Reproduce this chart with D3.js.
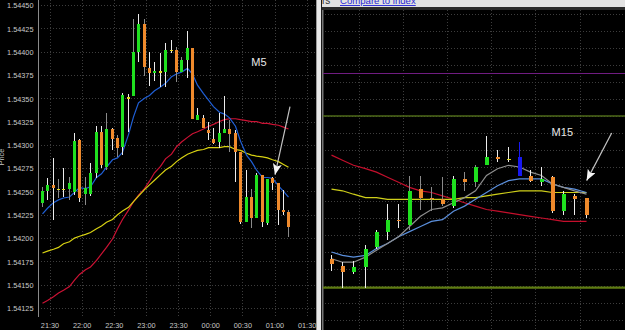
<!DOCTYPE html>
<meta charset="utf-8">
<style>
body { margin: 0; background: #000; }
svg { display: block; }
.tick-label { fill: #c8c8c8; font: 7.3px "Liberation Sans", Arial, sans-serif; }
.grid { stroke: #3d3d3d; stroke-width: 1px; stroke-dasharray: 1,2; shape-rendering: crispEdges; }
.ma { fill: none; stroke-width: 1.2px; }
.tf { fill: #e8e8e8; font: 11px "Liberation Sans", Arial, sans-serif; }
</style>
<body>
<script src="https://cdn.jsdelivr.net/npm/d3@7"></script>
<script>

// ---------- M5 panel data (left) ----------
var m5Start = "2013-01-01T21:20";
var m5Open = [1.54238,1.54250,1.54257,1.54253,1.54253,1.54253,1.54249,1.54305,1.54247,1.54247,
  1.54270,1.54314,1.54276,1.54317,1.54307,1.54298,1.54351,1.54352,1.54400,1.54430,
  1.54382,1.54377,1.54379,1.54378,1.54402,1.54402,1.54378,1.54391,1.54404,1.54327,
  1.54329,1.54316,1.54306,1.54303,1.54313,1.54317,1.54313,1.54292,1.54217,1.54244,
  1.54222,1.54268,1.54216,1.54264,1.54259,1.54230,1.54228];
var m5High = [1.54255,1.54264,1.54286,1.54263,1.54275,1.54265,1.54313,1.54306,1.54265,1.54280,
  1.54320,1.54320,1.54334,1.54318,1.54311,1.54356,1.54355,1.54435,1.54440,1.54435,
  1.54400,1.54389,1.54398,1.54409,1.54412,1.54405,1.54394,1.54422,1.54404,1.54339,
  1.54332,1.54324,1.54318,1.54334,1.54352,1.54327,1.54316,1.54292,1.54273,1.54253,
  1.54270,1.54268,1.54263,1.54265,1.54259,1.54252,1.54230];
var m5Low = [1.54233,1.54241,1.54219,1.54243,1.54244,1.54241,1.54246,1.54239,1.54235,1.54245,
  1.54264,1.54275,1.54273,1.54294,1.54287,1.54289,1.54314,1.54352,1.54389,1.54374,
  1.54363,1.54368,1.54362,1.54362,1.54398,1.54367,1.54378,1.54372,1.54328,1.54327,
  1.54318,1.54305,1.54301,1.54297,1.54313,1.54292,1.54260,1.54215,1.54217,1.54211,
  1.54221,1.54212,1.54214,1.54252,1.54214,1.54225,1.54201];
var m5Close = [1.54250,1.54257,1.54254,1.54253,1.54253,1.54259,1.54304,1.54243,1.54254,1.54270,
  1.54314,1.54278,1.54317,1.54306,1.54297,1.54353,1.54351,1.54400,1.54430,1.54383,
  1.54377,1.54379,1.54379,1.54402,1.54402,1.54378,1.54391,1.54404,1.54328,1.54332,
  1.54318,1.54313,1.54302,1.54313,1.54317,1.54312,1.54292,1.54217,1.54244,1.54222,
  1.54268,1.54217,1.54263,1.54259,1.54230,1.54228,1.54212];
var m5MaFast = [1.54226,1.54232,1.54238,1.54241,1.54243,1.54244,1.54249,1.54254,1.54253,1.54255,
  1.54265,1.54269,1.54276,1.54284,1.54286,1.54292,1.54311,1.54330,1.54345,1.54350,
  1.54353,1.54358,1.54362,1.54366,1.54373,1.54376,1.54378,1.54382,1.54376,1.54364,
  1.54355,1.54348,1.54341,1.54335,1.54333,1.54329,1.54320,1.54304,1.54289,1.54282,
  1.54273,1.54265,1.54265,1.54264,1.54256,1.54250,1.54244];
var m5MaSlow = [1.54130,1.54133,1.54137,1.54141,1.54144,1.54148,1.54155,1.54161,1.54166,1.54169,
  1.54176,1.54183,1.54190,1.54199,1.54210,1.54220,1.54230,1.54239,1.54246,1.54253,
  1.54261,1.54270,1.54277,1.54285,1.54290,1.54298,1.54303,1.54308,1.54312,1.54314,
  1.54317,1.54320,1.54322,1.54325,1.54327,1.54328,1.54328,1.54327,1.54326,1.54325,
  1.54325,1.54323,1.54323,1.54322,1.54321,1.54319,1.54317];
var m5MaMid = [1.54184,1.54186,1.54188,1.54190,1.54194,1.54196,1.54200,1.54202,1.54204,1.54206,
  1.54210,1.54213,1.54217,1.54220,1.54225,1.54229,1.54233,1.54239,1.54245,1.54252,
  1.54257,1.54262,1.54268,1.54273,1.54277,1.54282,1.54286,1.54290,1.54292,1.54294,
  1.54295,1.54297,1.54297,1.54297,1.54298,1.54298,1.54295,1.54294,1.54291,1.54289,
  1.54288,1.54287,1.54286,1.54284,1.54282,1.54279,1.54276];
var m5PriceTicks = [1.54125,1.54150,1.54175,1.54200,1.54225,1.54250,1.54275,
  1.54300,1.54325,1.54350,1.54375,1.54400,1.54425,1.54450];
var m5TimeTicks = ["2013-01-01T21:30","2013-01-01T22:00","2013-01-01T22:30","2013-01-01T23:00",
  "2013-01-01T23:30","2013-01-02T00:00","2013-01-02T00:30","2013-01-02T01:00","2013-01-02T01:30"];

// ---------- M15 panel data (right) ----------
var m15Start = "2013-01-01T19:15";
var m15Open = [1.54176,1.54172,1.54168,1.54171,1.54183,1.54192,1.54199,1.54196,1.54217,1.54212,
  1.54211,1.54207,1.54223,1.54221,1.54231,1.54236,1.54235,1.54236,1.54225,1.54221,
  1.54224,1.54204,1.54213,1.54212];
var m15High = [1.54178,1.54174,1.54175,1.54184,1.54193,1.54208,1.54208,1.54225,1.54225,1.54218,
  1.54224,1.54225,1.54227,1.54231,1.54248,1.54240,1.54242,1.54245,1.54228,1.54230,
  1.54225,1.54216,1.54214,1.54212];
var m15Low = [1.54169,1.54159,1.54167,1.54159,1.54182,1.54187,1.54194,1.54193,1.54205,1.54204,
  1.54207,1.54206,1.54216,1.54218,1.54231,1.54233,1.54233,1.54225,1.54221,1.54219,
  1.54203,1.54202,1.54202,1.54200];
var m15Close = [1.54173,1.54168,1.54171,1.54182,1.54192,1.54199,1.54198,1.54216,1.54212,1.54211,
  1.54208,1.54223,1.54221,1.54230,1.54236,1.54235,1.54235,1.54225,1.54222,1.54223,
  1.54204,1.54214,1.54211,1.54202];
var m15MaFast = [1.54176,1.54174,1.54174,1.54177,1.54181,1.54185,1.54189,1.54195,1.54201,1.54205,
  1.54206,1.54209,1.54212,1.54216,1.54225,1.54229,1.54231,1.54230,1.54227,1.54225,
  1.54220,1.54218,1.54216,1.54214];
var m15MaBlue = [1.54180,1.54178,1.54177,1.54178,1.54182,1.54185,1.54189,1.54192,1.54195,1.54198,
  1.54199,1.54204,1.54207,1.54211,1.54215,1.54219,1.54222,1.54223,1.54223,1.54223,
  1.54220,1.54218,1.54217,1.54215];
var m15MaMid = [1.54217,1.54216,1.54214,1.54212,1.54212,1.54211,1.54211,1.54211,1.54211,1.54211,
  1.54211,1.54211,1.54212,1.54212,1.54213,1.54214,1.54215,1.54216,1.54216,1.54216,
  1.54215,1.54215,1.54215,1.54215];
var m15MaSlow = [1.54237,1.54234,1.54231,1.54229,1.54227,1.54224,1.54221,1.54218,1.54216,1.54215,
  1.54213,1.54211,1.54209,1.54207,1.54205,1.54204,1.54203,1.54202,1.54201,1.54200,
  1.54199,1.54198,1.54198,1.54198];
var m15Levels = [1.54285, 1.54260, 1.54159];
var m15PriceTicks = [1.5414,1.5415,1.5416,1.5417,1.5418,1.5419,1.5420,1.5421,1.5422,1.5423,
  1.5424,1.5425,1.5426,1.5427,1.5428,1.5429,1.5430,1.5431,1.5432];
var m15TimeTicks = ["2013-01-01T20:00","2013-01-01T21:00","2013-01-01T22:00",
  "2013-01-01T23:00","2013-01-02T00:00","2013-01-02T01:00"];
var m15Selected = 17;

// annotations (time, price)
var m5Note = {text: "M5", t: "2013-01-02T00:45", p: 1.54385};
var m5Arrow = {t0: "2013-01-02T01:14", p0: 1.54341, t1: "2013-01-02T01:00", p1: 1.54268};
var m15Note = {text: "M15", t: "2013-01-02T00:36", p: 1.54248};
var m15Arrow = {t0: "2013-01-02T01:43", p0: 1.54250, t1: "2013-01-02T01:09", p1: 1.54222};

// ---------- styles ----------
var UP = "#1fe01f", DOWN = "#ef8a2c", DOJI = "#e2da1e", SEL = "#1818f0";
var WICK = "#ececec", WICK2 = "#8a8a8a";
var m5GrayWicks = [0, 3, 5, 8, 12, 14, 17, 19, 25, 26, 35, 39, 46];
var m15GrayWicks = [7, 8, 9, 10, 12, 13];

var parseT = d3.timeParse("%Y-%m-%dT%H:%M");
var fmtT = d3.timeFormat("%H:%M");

var W = 625, H = 330;
var L = {left: 38, right: 317, top: 0, bottom: 317};
var R = {left: 322, right: 625, top: 10, bottom: 330};

var x5 = d3.scaleTime().domain([parseT("2013-01-01T21:30"), parseT("2013-01-02T01:00")]).range([50, 275]);
var y5 = d3.scaleLinear().domain([1.54125, 1.54450]).range([308, 5]);
var x15 = d3.scaleTime().domain([parseT("2013-01-01T20:00"), parseT("2013-01-02T01:00")]).range([359, 580]);
var y15 = d3.scaleLinear().domain([1.5420, 1.5430]).range([218, 48]);

var svg = d3.select("body").append("svg")
    .attr("width", W)
    .attr("height", H);

svg.append("rect").attr("width", W).attr("height", H).attr("fill", "#000");

var defs = svg.append("defs");
defs.append("clipPath").attr("id", "clipL").append("rect")
    .attr("x", L.left + 1).attr("y", L.top).attr("width", L.right - L.left - 1).attr("height", L.bottom - L.top);
defs.append("clipPath").attr("id", "clipR").append("rect")
    .attr("x", R.left + 1).attr("y", R.top).attr("width", R.right - R.left).attr("height", R.bottom - R.top);
defs.append("marker").attr("id", "head")
    .attr("markerUnits", "userSpaceOnUse")
    .attr("markerWidth", 12).attr("markerHeight", 10)
    .attr("refX", 11).attr("refY", 4.5)
    .attr("orient", "auto")
  .append("path").attr("d", "M0,0 L11,4.5 L0,9 L2.5,4.5 Z").attr("fill", "#f4f4f4");

function buildCandles(start, step, o, h, l, c) {
  var t0 = parseT(start);
  return o.map(function(d, i) {
    return {i: i, t: d3.timeMinute.offset(t0, step * i), open: d, high: h[i], low: l[i], close: c[i]};
  });
}

function drawPanel(g, data, mas, x, y, step, opt) {
  var cx = function(d) { return Math.round(x(d3.timeSecond.offset(d.t, step * 30))); };

  // moving averages
  mas.forEach(function(m) {
    var line = d3.line()
        .x(function(v, i) { return cx(data[i]) + 0.5; })
        .y(function(v) { return y(v); });
    g.append("path")
        .datum(m.values)
        .attr("class", "ma")
        .attr("stroke", m.color)
        .attr("stroke-width", m.width)
        .attr("d", line);
  });

  var c = g.selectAll(".candle").data(data).enter().append("g").attr("class", "candle")
      .attr("shape-rendering", "crispEdges");
  c.append("line")
      .attr("x1", function(d) { return cx(d) + 0.5; })
      .attr("x2", function(d) { return cx(d) + 0.5; })
      .attr("y1", function(d) { return y(d.high); })
      .attr("y2", function(d) { return y(d.low); })
      .attr("stroke", function(d) {
        if (d.i === opt.selected) return SEL;
        return opt.grayWicks.indexOf(d.i) >= 0 ? WICK2 : WICK;
      });
  c.append("rect")
      .attr("x", function(d) { return cx(d) - Math.floor(opt.body / 2) + (opt.body % 2 ? 0 : 0.5); })
      .attr("width", opt.body)
      .attr("y", function(d) { return y(Math.max(d.open, d.close)); })
      .attr("height", function(d) { return Math.max(1.5, Math.abs(y(d.open) - y(d.close))); })
      .attr("fill", function(d) {
        if (d.i === opt.selected) return SEL;
        if (d.close > d.open) return UP;
        if (d.close < d.open) return DOWN;
        return DOJI;
      });
}

// ---------- left panel ----------
var gl = svg.append("g");
m5TimeTicks.forEach(function(s) {
  gl.append("line").attr("class", "grid")
      .attr("x1", x5(parseT(s))).attr("x2", x5(parseT(s)))
      .attr("y1", L.top).attr("y2", L.bottom);
});
m5PriceTicks.forEach(function(p) {
  gl.append("line").attr("class", "grid")
      .attr("x1", L.left).attr("x2", L.right)
      .attr("y1", Math.round(y5(p)) + 0.5).attr("y2", Math.round(y5(p)) + 0.5);
});

var m5 = buildCandles(m5Start, 5, m5Open, m5High, m5Low, m5Close);
var plotL = gl.append("g").attr("clip-path", "url(#clipL)");
drawPanel(plotL, m5, [
  {values: m5MaSlow, color: "#cc1234", width: 1.2},
  {values: m5MaMid, color: "#d8d212", width: 1.2},
  {values: m5MaFast, color: "#1f5fd6", width: 1.3}
], x5, y5, 5, {body: 3, grayWicks: m5GrayWicks, selected: -1});

// axes labels
gl.selectAll(".ylab").data(m5PriceTicks).enter().append("text")
    .attr("class", "tick-label")
    .attr("x", 33.5)
    .attr("y", function(d) { return y5(d); })
    .attr("dy", "0.45em")
    .attr("text-anchor", "end")
    .text(d3.format(".5f"));
gl.selectAll(".xlab").data(m5TimeTicks).enter().append("text")
    .attr("class", "tick-label")
    .attr("x", function(d) { return x5(parseT(d)); })
    .attr("y", 327.5)
    .attr("text-anchor", "middle")
    .text(function(d) { return fmtT(parseT(d)); });
gl.append("text")
    .attr("class", "tick-label")
    .attr("transform", "translate(3.5,157) rotate(-90)")
    .attr("text-anchor", "middle")
    .text("Price");

gl.append("line").attr("x1", L.left + 0.5).attr("x2", L.left + 0.5)
    .attr("y1", 0).attr("y2", L.bottom).attr("stroke", "#8a8a8a");
gl.append("line").attr("x1", L.right - 0.5).attr("x2", L.right - 0.5)
    .attr("y1", 0).attr("y2", H).attr("stroke", "#9a9a9a");

// annotations
gl.append("text").attr("class", "tf")
    .attr("x", x5(parseT(m5Note.t))).attr("y", y5(m5Note.p))
    .attr("text-anchor", "middle").text(m5Note.text);
gl.append("line")
    .attr("x1", x5(parseT(m5Arrow.t0))).attr("y1", y5(m5Arrow.p0))
    .attr("x2", x5(parseT(m5Arrow.t1))).attr("y2", y5(m5Arrow.p1))
    .attr("stroke", "#c4c4c4").attr("stroke-width", 1.2)
    .attr("marker-end", "url(#head)");

// ---------- separator + right header ----------
svg.append("rect").attr("x", 317).attr("y", 0).attr("width", 4).attr("height", H).attr("fill", "#e8e8e8");
svg.append("rect").attr("x", 321).attr("y", 0).attr("width", 1).attr("height", H).attr("fill", "#1a1a1a");
svg.append("rect").attr("x", 322).attr("y", 0).attr("width", 1.5).attr("height", H).attr("fill", "#777");

var gr = svg.append("g");
gr.append("rect").attr("x", R.left).attr("y", 0).attr("width", R.right - R.left).attr("height", 7).attr("fill", "#e2e2e2");
gr.append("rect").attr("x", R.left).attr("y", 7).attr("width", R.right - R.left).attr("height", 3).attr("fill", "#2a2a2a");
gr.append("text").attr("x", 322).attr("y", 4)
    .style("font", "10px 'Liberation Sans', Arial, sans-serif").attr("fill", "#333").text("rs");
gr.append("text").attr("x", 340).attr("y", 4)
    .style("font", "9.6px 'Liberation Sans', Arial, sans-serif")
    .style("text-decoration", "underline")
    .attr("fill", "#2b2bd6").text("Compare to index");

// ---------- right panel ----------
var plotR = gr.append("g").attr("clip-path", "url(#clipR)");
m15TimeTicks.forEach(function(s) {
  plotR.append("line").attr("class", "grid")
      .attr("x1", x15(parseT(s))).attr("x2", x15(parseT(s)))
      .attr("y1", R.top).attr("y2", R.bottom);
});
m15PriceTicks.forEach(function(p) {
  plotR.append("line").attr("class", "grid")
      .attr("x1", R.left).attr("x2", R.right)
      .attr("y1", Math.round(y15(p)) + 0.5).attr("y2", Math.round(y15(p)) + 0.5);
});
var levelStyle = [["#701c82", 1.2], ["#4e6a18", 1.3], ["#5f7c12", 2.2]];
m15Levels.forEach(function(p, i) {
  plotR.append("line")
      .attr("x1", R.left).attr("x2", R.right)
      .attr("y1", y15(p)).attr("y2", y15(p))
      .attr("stroke", levelStyle[i][0]).attr("stroke-width", levelStyle[i][1]);
});

var m15 = buildCandles(m15Start, 15, m15Open, m15High, m15Low, m15Close);
drawPanel(plotR, m15, [
  {values: m15MaSlow, color: "#c40f2c", width: 1.4},
  {values: m15MaMid, color: "#cfcf1a", width: 1.3},
  {values: m15MaBlue, color: "#5b8fdc", width: 1.3},
  {values: m15MaFast, color: "#8e8e8e", width: 1.1}
], x15, y15, 15, {body: 4, grayWicks: m15GrayWicks, selected: m15Selected});

gr.append("text").attr("class", "tf")
    .attr("x", x15(parseT(m15Note.t))).attr("y", y15(m15Note.p))
    .attr("text-anchor", "middle").text(m15Note.text);
gr.append("line")
    .attr("x1", x15(parseT(m15Arrow.t0))).attr("y1", y15(m15Arrow.p0))
    .attr("x2", x15(parseT(m15Arrow.t1))).attr("y2", y15(m15Arrow.p1))
    .attr("stroke", "#c4c4c4").attr("stroke-width", 1.2)
    .attr("marker-end", "url(#head)");

</script>
</body>
